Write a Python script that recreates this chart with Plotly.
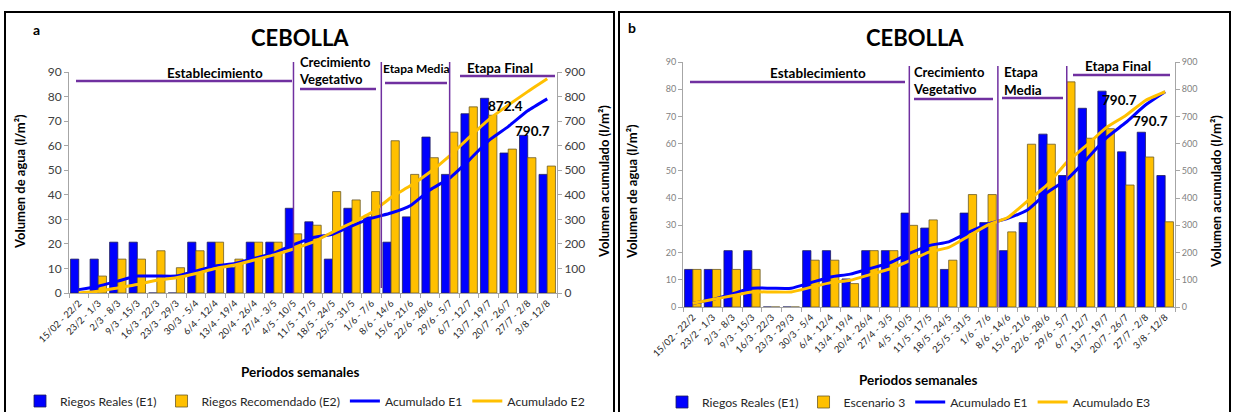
import plotly.graph_objects as go

W, H = 1233, 412

categories = ["15/02 - 22/2", "23/2 - 1/3", "2/3 - 8/3", "9/3 - 15/3", "16/3 - 22/3",
              "23/3 - 29/3", "30/3 - 5/4", "6/4 - 12/4", "13/4 - 19/4", "20/4 - 26/4",
              "27/4 - 3/5", "4/5 - 10/5", "11/5 - 17/5", "18/5 - 24/5", "25/5 - 31/5",
              "1/6 - 7/6", "8/6 - 14/6", "15/6 - 21/6", "22/6 - 28/6", "29/6 - 5/7",
              "6/7 - 12/7", "13/7 - 19/7", "20/7 - 26/7", "27/7 - 2/8", "3/8 - 12/8"]

reales_e1 = [13.8, 13.8, 20.7, 20.7, 0, 0, 20.7, 20.7, 10.3, 20.7, 20.7, 34.5, 29.0,
             13.8, 34.5, 31.0, 20.7, 31.0, 63.5, 48.3, 73.0, 79.3, 57.0, 64.2, 48.3]
recomendado_e2 = [0, 6.9, 13.8, 13.8, 17.2, 10.3, 17.2, 20.7, 13.8, 20.7, 20.7, 24.1, 27.6,
                  41.3, 37.9, 41.3, 62.0, 48.3, 55.1, 65.5, 75.8, 72.4, 58.6, 55.1, 51.7]
escenario_3 = [13.8, 13.8, 13.8, 13.8, 0, 0, 17.2, 17.2, 8.6, 20.7, 20.7, 30.0, 32.0,
               17.2, 41.3, 41.3, 27.6, 59.8, 59.8, 82.7, 62.0, 65.5, 44.8, 55.1, 31.3]

acum_e1 = [13.8, 27.6, 48.3, 69.0, 69.0, 69.0, 89.7, 110.4, 120.7, 141.4, 162.1, 196.6, 225.6,
           239.4, 273.9, 304.9, 325.6, 356.6, 420.1, 468.4, 541.4, 620.7, 677.7, 741.9, 790.7]
acum_e2 = [0, 6.9, 20.7, 34.5, 51.7, 62.0, 79.2, 99.9, 113.7, 134.4, 155.1, 179.2, 206.8,
           248.1, 286.0, 327.3, 389.3, 437.6, 492.7, 558.2, 634.0, 706.4, 765.0, 820.1, 872.4]
acum_e3 = [13.8, 27.6, 41.4, 55.2, 55.2, 55.2, 72.4, 89.6, 98.2, 118.9, 139.6, 169.6, 201.6,
           218.8, 260.1, 301.4, 329.0, 388.8, 448.6, 531.3, 593.3, 658.8, 703.6, 758.7, 790.7]

left_ticks = list(range(0, 91, 10))
right_ticks = list(range(0, 901, 100))

FONT = "Lato, Carlito, Calibri, sans-serif"
BLUE = "#0000FF"
GOLD = "#FFC000"
PURPLE = "#7030A0"


def px(x):
    return x / W


def py(y):
    return 1 - y / H


fig = go.Figure()

bar_blue = dict(color=BLUE, line=dict(color="#20205A", width=0.8))
bar_gold = dict(color=GOLD, line=dict(color="#6B5A2A", width=0.8))
spl = dict(shape="spline", smoothing=0.5)

# ---- panel a
fig.add_trace(go.Bar(x=categories, y=reales_e1, name="Riegos Reales (E1)", marker=bar_blue,
                     xaxis="x", yaxis="y", legend="legend"))
fig.add_trace(go.Bar(x=categories, y=recomendado_e2, name="Riegos Recomendado (E2)", marker=bar_gold,
                     xaxis="x", yaxis="y", legend="legend"))
fig.add_trace(go.Scatter(x=categories, y=acum_e1, name="Acumulado E1", mode="lines",
                         line=dict(color=BLUE, width=3, **spl), xaxis="x", yaxis="y2", legend="legend"))
fig.add_trace(go.Scatter(x=categories, y=acum_e2, name="Acumulado E2", mode="lines",
                         line=dict(color=GOLD, width=3, **spl), xaxis="x", yaxis="y2", legend="legend"))

# ---- panel b
fig.add_trace(go.Bar(x=categories, y=reales_e1, name="Riegos Reales (E1)", marker=bar_blue,
                     xaxis="x2", yaxis="y3", legend="legend2"))
fig.add_trace(go.Bar(x=categories, y=escenario_3, name="Escenario 3", marker=bar_gold,
                     xaxis="x2", yaxis="y3", legend="legend2"))
fig.add_trace(go.Scatter(x=categories, y=acum_e1, name="Acumulado E1", mode="lines",
                         line=dict(color=BLUE, width=3, **spl), xaxis="x2", yaxis="y4", legend="legend2"))
fig.add_trace(go.Scatter(x=categories, y=acum_e3, name="Acumulado E3", mode="lines",
                         line=dict(color=GOLD, width=3, **spl), xaxis="x2", yaxis="y4", legend="legend2"))

axis_common = dict(showgrid=False, zeroline=False, showline=True, linecolor="#A6A6A6",
                   ticks="outside", ticklen=4, tickcolor="#A6A6A6", automargin=False)

xa = dict(type="category", tickson="boundaries", tickangle=-45,
          tickfont=dict(size=9.5, color="#262626", family=FONT), **axis_common)

fig.update_layout(
    width=W, height=H,
    margin=dict(l=0, r=0, t=0, b=0, autoexpand=False),
    paper_bgcolor="white", plot_bgcolor="white",
    font=dict(family=FONT, color="#000000"),
    barmode="group", bargap=0.16, bargroupgap=0.0,
    xaxis=dict(domain=[px(69), px(557)], anchor="y", **xa),
    yaxis=dict(domain=[py(293), py(72)], anchor="x", range=[0, 90], tickvals=left_ticks,
               tickfont=dict(size=12, color="#404040"), **axis_common),
    yaxis2=dict(overlaying="y", side="right", anchor="x", range=[0, 900], tickvals=right_ticks,
                tickfont=dict(size=12, color="#404040"), **axis_common),
    xaxis2=dict(domain=[px(683), px(1175)], anchor="y3", **xa),
    yaxis3=dict(domain=[py(307), py(62)], anchor="x2", range=[0, 90], tickvals=left_ticks,
                tickfont=dict(size=9, color="#7F7F7F"), **axis_common),
    yaxis4=dict(overlaying="y3", side="right", anchor="x2", range=[0, 900], tickvals=right_ticks,
                tickfont=dict(size=9, color="#7F7F7F"), **axis_common),
    legend=dict(orientation="h", x=px(20), xanchor="left", y=py(401), yanchor="middle",
                font=dict(size=12.2, color="#262626"), bgcolor="rgba(0,0,0,0)",
                itemwidth=30, tracegroupgap=0, traceorder="normal"),
    legend2=dict(orientation="h", x=px(662), xanchor="left", y=py(402), yanchor="middle",
                 font=dict(size=12.2, color="#262626"), bgcolor="rgba(0,0,0,0)",
                 itemwidth=30, tracegroupgap=0, traceorder="normal"),
    showlegend=True,
)

shapes = []
# panel borders
for x0, x1 in [(5, 614), (619, 1230)]:
    shapes.append(dict(type="rect", xref="paper", yref="paper", x0=px(x0), x1=px(x1),
                       y0=-0.05, y1=py(12), line=dict(color="black", width=2)))


def hline(x0, x1, y):
    shapes.append(dict(type="line", xref="paper", yref="paper", x0=px(x0), x1=px(x1),
                       y0=py(y), y1=py(y), line=dict(color=PURPLE, width=2.5)))


def vline(xref, xc, y0, y1):
    shapes.append(dict(type="line", xref=xref, yref="paper", x0=xc, x1=xc,
                       y0=py(y0), y1=py(y1), line=dict(color=PURPLE, width=1.5)))


# panel a phases
hline(76, 292, 81)
hline(300, 376, 89)
hline(385, 447, 83)
hline(460, 555, 76)
vline("x", 11, 62, 293)
vline("x", 15.5, 62, 288)
vline("x", 19, 62, 293)
# panel b phases
hline(690, 905, 82)
hline(914, 993, 99)
hline(1002, 1063, 98)
hline(1073, 1170, 75)
vline("x2", 11, 66, 307)
vline("x2", 15.5, 66, 307)
vline("x2", 19, 66, 300)

fig.update_layout(shapes=shapes)

ann = []


def text(x, y, s, size=13, bold=True, xanchor="center", angle=0, color="#000000", align="center"):
    ann.append(dict(xref="paper", yref="paper", x=px(x), y=py(y), text=f"<b>{s}</b>" if bold else s,
                    showarrow=False, xanchor=xanchor, yanchor="middle", textangle=angle,
                    font=dict(size=size, color=color, family=FONT), align=align))


# panel a texts
text(36, 30, "a", 14)
text(300, 38, "CEBOLLA", 22)
text(215, 73, "Establecimiento", 13.5)
text(297, 70, "Crecimiento<br>Vegetativo", 13, xanchor="left", align="left")
text(416, 68, "Etapa Media", 12)
text(500, 68, "Etapa Final", 13.5)
text(505, 106, "872.4", 13.5)
text(532, 131, "790.7", 13.5)
text(20, 182, "Volumen de agua (l/m²)", 13, angle=-90)
text(604, 182, "Volumen acumulado (l/m²)", 13, angle=-90)
text(300, 372, "Periodos semanales", 13.5)
# panel b texts
text(632, 28, "b", 14)
text(915, 38, "CEBOLLA", 22)
text(818, 73, "Establecimiento", 13.5)
text(911, 80, "Crecimiento<br>Vegetativo", 13, xanchor="left", align="left")
text(1002, 81, "Etapa<br>Media", 13.5, xanchor="left", align="left")
text(1118, 66, "Etapa Final", 13.5)
text(1119, 100, "790.7", 13.5)
text(1150, 121, "790.7", 13.5)
text(632, 192, "Volumen de agua (l/m²)", 13, angle=-90)
text(1216, 192, "Volumen acumulado (l/m²)", 13, angle=-90)
text(918, 380, "Periodos semanales", 13.5)

fig.update_layout(annotations=ann)

fig.write_html("out.html", config={"displayModeBar": False},
               post_script="document.body.style.margin='0';document.body.style.overflow='hidden';")
